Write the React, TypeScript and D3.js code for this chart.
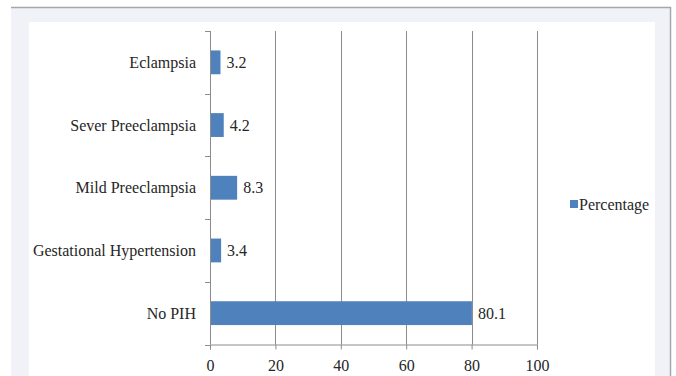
import React, { useRef, useEffect } from "react";
import * as d3 from "d3";

const categories = [
  "Eclampsia",
  "Sever Preeclampsia",
  "Mild Preeclampsia",
  "Gestational Hypertension",
  "No PIH",
];
const percentages = [3.2, 4.2, 8.3, 3.4, 80.1];
const xTicks = [0, 20, 40, 60, 80, 100];
const seriesName = "Percentage";

const W = 676;
const H = 376;

const App: React.FC = () => {
  const ref = useRef<SVGSVGElement | null>(null);

  useEffect(() => {
    const svg = d3.select(ref.current);
    svg.selectAll("*").remove();
    const font = "'Liberation Serif', 'Times New Roman', serif";
    const fontSize = "16px";
    const textColor = "#262626";
    const barColor = "#4f81bd";
    const gridColor = "#8c8c8c";

    // page frame
    svg.append("rect").attr("width", W).attr("height", H).attr("fill", "#fff");
    svg
      .append("rect")
      .attr("x", 11)
      .attr("y", 7)
      .attr("width", 659)
      .attr("height", H)
      .attr("fill", "#f1f2f7");
    svg
      .append("path")
      .attr("d", `M11,7.5H670.5V${H}`)
      .attr("fill", "none")
      .attr("stroke", "#a7a7ab")
      .attr("stroke-width", 1.5);
    svg
      .append("rect")
      .attr("x", 29)
      .attr("y", 22)
      .attr("width", 626)
      .attr("height", H)
      .attr("fill", "#fff");

    const left = 210;
    const right = 537;
    const top = 31;
    const bottom = 344.5;

    const x = d3.scaleLinear().domain([0, 100]).range([left, right]);
    const y = d3
      .scaleBand<string>()
      .domain(categories)
      .range([top, bottom])
      .paddingInner(0.62)
      .paddingOuter(0.31);

    const g = svg.append("g");

    // vertical gridlines
    g.selectAll(".grid")
      .data(xTicks.slice(1))
      .enter()
      .append("line")
      .attr("x1", (d) => Math.round(x(d)) + 0.5)
      .attr("x2", (d) => Math.round(x(d)) + 0.5)
      .attr("y1", top)
      .attr("y2", bottom)
      .attr("stroke", gridColor)
      .attr("stroke-width", 1);

    // bars
    g.selectAll(".bar")
      .data(categories)
      .enter()
      .append("rect")
      .attr("x", left)
      .attr("y", (d) => y(d)!)
      .attr("width", (d, i) => x(percentages[i]) - left)
      .attr("height", y.bandwidth())
      .attr("fill", barColor);

    // x axis
    const xAxis = g
      .append("g")
      .attr("transform", `translate(0,${bottom})`)
      .call(d3.axisBottom(x).tickValues(xTicks).tickSize(5).tickPadding(10) as any);
    xAxis.select(".domain").attr("stroke", gridColor);
    xAxis.selectAll("line").attr("stroke", gridColor);
    xAxis
      .selectAll("text")
      .attr("fill", textColor)
      .style("font-family", font)
      .style("font-size", fontSize);

    // y axis
    const step = y.step();
    const yTickPos = d3.range(categories.length + 1).map((i) => top + i * step);
    g.append("line")
      .attr("x1", left + 0.5)
      .attr("x2", left + 0.5)
      .attr("y1", top)
      .attr("y2", bottom)
      .attr("stroke", gridColor);
    g.selectAll(".ytick")
      .data(yTickPos)
      .enter()
      .append("line")
      .attr("x1", left - 5)
      .attr("x2", left)
      .attr("y1", (d) => Math.round(d) + 0.5)
      .attr("y2", (d) => Math.round(d) + 0.5)
      .attr("stroke", gridColor);

    // category labels
    g.selectAll(".cat")
      .data(categories)
      .enter()
      .append("text")
      .attr("x", left - 14)
      .attr("y", (d) => y(d)! + y.bandwidth() / 2)
      .attr("dy", "0.35em")
      .attr("text-anchor", "end")
      .attr("fill", textColor)
      .style("font-family", font)
      .style("font-size", fontSize)
      .text((d) => d);

    // value labels
    g.selectAll(".val")
      .data(categories)
      .enter()
      .append("text")
      .attr("x", (d, i) => x(percentages[i]) + 6)
      .attr("y", (d) => y(d)! + y.bandwidth() / 2)
      .attr("dy", "0.35em")
      .attr("fill", textColor)
      .style("font-family", font)
      .style("font-size", fontSize)
      .text((d, i) => percentages[i].toFixed(1));

    // legend
    const lg = svg.append("g").attr("transform", "translate(570,204)");
    lg.append("rect")
      .attr("x", 0)
      .attr("y", -4)
      .attr("width", 8)
      .attr("height", 8)
      .attr("fill", barColor);
    lg.append("text")
      .attr("x", 9)
      .attr("y", 0)
      .attr("dy", "0.35em")
      .attr("fill", textColor)
      .style("font-family", font)
      .style("font-size", fontSize)
      .text(seriesName);
  }, []);

  return (
    <svg
      ref={ref}
      width={W}
      height={H}
      style={{ position: "fixed", left: 0, top: 0, display: "block" }}
    />
  );
};

export default App;
